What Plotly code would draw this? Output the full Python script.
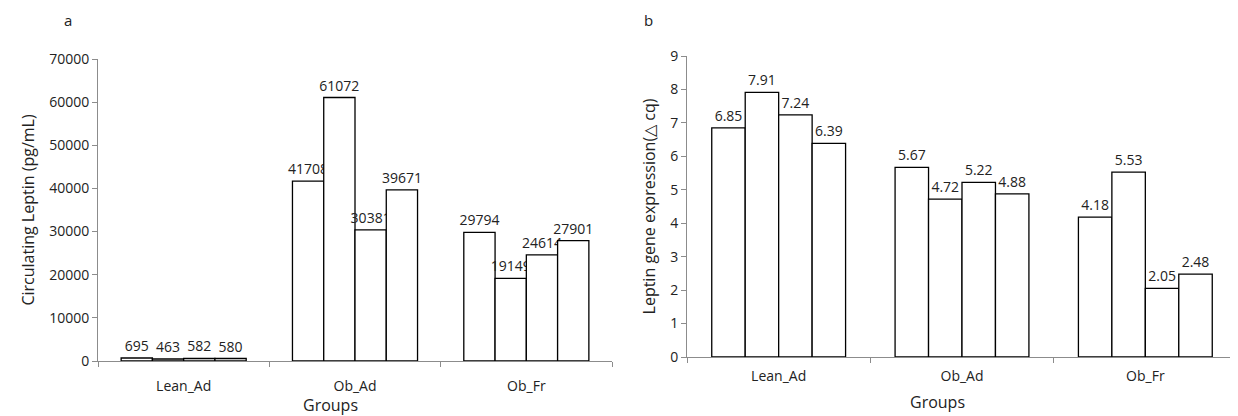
import plotly.graph_objects as go

groups = ["Lean_Ad", "Ob_Ad", "Ob_Fr"]
# leptin (pg/mL): replicate k for each group
leptin_reps = [
    [695, 41708, 29794],
    [463, 61072, 19149],
    [582, 30381, 24614],
    [580, 39671, 27901],
]
# gene expression (delta cq)
expr_reps = [
    [6.85, 5.67, 4.18],
    [7.91, 4.72, 5.53],
    [7.24, 5.22, 2.05],
    [6.39, 4.88, 2.48],
]
left_ticks = [0, 10000, 20000, 30000, 40000, 50000, 60000, 70000]
right_ticks = list(range(0, 10))

W, H = 1238, 416
OFF = 8  # page body margin
FONT = "Open Sans"

def fx(px):
    return (px - OFF) / W

def fy(py):
    return 1 - (py - OFF) / H

fig = go.Figure()
for reps in leptin_reps:
    fig.add_trace(go.Bar(
        x=groups, y=reps, xaxis="x", yaxis="y",
        marker=dict(color="white", line=dict(color="black", width=1.3)),
        text=[str(v) for v in reps], textposition="outside",
        constraintext="none",
        textfont=dict(family=FONT, size=14, color="#222"),
        cliponaxis=False, showlegend=False,
    ))
for reps in expr_reps:
    fig.add_trace(go.Bar(
        x=groups, y=reps, xaxis="x2", yaxis="y2",
        marker=dict(color="white", line=dict(color="black", width=1.3)),
        text=[f"{v:.2f}" for v in reps], textposition="outside",
        constraintext="none",
        textfont=dict(family=FONT, size=14, color="#222"),
        cliponaxis=False, showlegend=False,
    ))

axis_common = dict(showgrid=False, zeroline=False, showline=True,
                   linecolor="#8c8c8c", linewidth=1, automargin=False,
                   tickfont=dict(family=FONT, size=14, color="#222"))

fig.update_layout(
    width=W, height=H, margin=dict(l=0, r=0, t=0, b=0, autoexpand=False),
    paper_bgcolor="white", plot_bgcolor="white",
    barmode="group", bargap=0.27, bargroupgap=0,
    xaxis=dict(domain=[fx(98), fx(612)], anchor="y", type="category",
               tickson="boundaries", ticks="outside", ticklen=5,
               tickcolor="#8c8c8c", ticklabelstandoff=12, **axis_common,
               ),
    yaxis=dict(domain=[fy(361), fy(59)], anchor="x", range=[0, 70000],
               tickvals=left_ticks, tickformat="d", ticks="outside", ticklen=5,
               tickcolor="#8c8c8c",
               title=dict(text="Circulating Leptin (pg/mL)",
                          font=dict(family=FONT, size=16, color="#222"),
                          standoff=10),
               **axis_common),
    xaxis2=dict(domain=[fx(687), fx(1237)], anchor="y2", type="category",
                tickson="boundaries", ticks="outside", ticklen=5,
                tickcolor="#8c8c8c", ticklabelstandoff=6, **axis_common),
    yaxis2=dict(domain=[fy(357), fy(56)], anchor="x2", range=[0, 9],
                tickvals=right_ticks, ticks="outside", ticklen=5,
                tickcolor="#8c8c8c",
                title=dict(text="Leptin gene expression(\u25b3 cq)",
                           font=dict(family=FONT, size=16, color="#222"),
                           standoff=10),
                **axis_common),
    annotations=[
        dict(text="a", x=fx(68), y=1, xref="paper", yref="paper",
             xanchor="center", yanchor="top",
             showarrow=False, font=dict(family=FONT, size=15, color="#222")),
        dict(text="b", x=fx(648), y=1, xref="paper", yref="paper",
             xanchor="center", yanchor="top",
             showarrow=False, font=dict(family=FONT, size=15, color="#222")),
        dict(text="Groups", x=fx(330), y=fy(405), xref="paper", yref="paper",
             xanchor="center", yanchor="middle",
             showarrow=False, font=dict(family=FONT, size=16, color="#222")),
        dict(text="Groups", x=fx(937), y=fy(402), xref="paper", yref="paper",
             xanchor="center", yanchor="middle",
             showarrow=False, font=dict(family=FONT, size=16, color="#222")),
    ],
)

fig.write_html("out.html")
